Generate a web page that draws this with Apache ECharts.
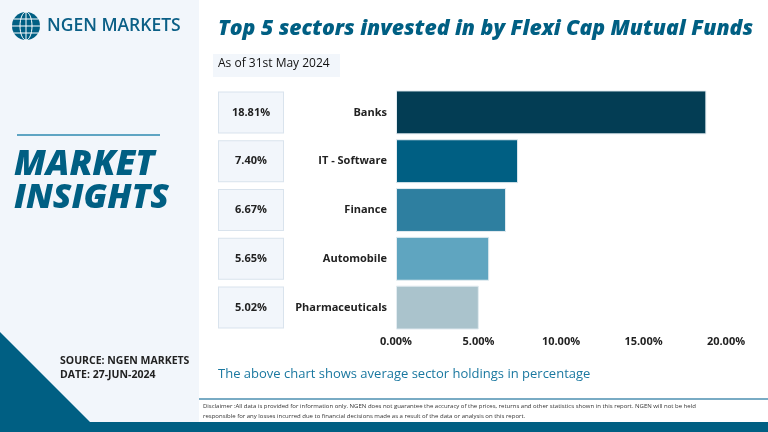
<!DOCTYPE html>
<html><head><meta charset="utf-8">
<script src="https://cdn.jsdelivr.net/npm/echarts@6/dist/echarts.min.js"></script>
<style>html,body{margin:0;padding:0;background:#fff}#c{width:768px;height:432px}</style>
</head><body><div id="c"></div>
<script>
const categories = ['Banks', 'IT - Software', 'Finance', 'Automobile', 'Pharmaceuticals'];
const values = [18.81, 7.40, 6.67, 5.65, 5.02];
const xTicks = [0, 5, 10, 15, 20];
const barColors = ['#033d54', '#005f83', '#2e7fa0', '#5fa5c0', '#aac3cc'];

const chart = echarts.init(document.getElementById('c'), null, {renderer: 'canvas'});
const F = '"Open Sans", "DejaVu Sans", sans-serif';
const dark = '#005f83';

const globe = [
  {type: 'circle', shape: {cx: 26, cy: 26, r: 14}, style: {fill: dark}},
  {type: 'ellipse', shape: {cx: 26, cy: 26, rx: 6, ry: 14}, style: {fill: 'none', stroke: '#fff', lineWidth: 1}},
  {type: 'line', shape: {x1: 26, y1: 12, x2: 26, y2: 40}, style: {stroke: '#fff', lineWidth: 1}},
  {type: 'line', shape: {x1: 12, y1: 26, x2: 40, y2: 26}, style: {stroke: '#fff', lineWidth: 1}},
  {type: 'line', shape: {x1: 14, y1: 19, x2: 38, y2: 19}, style: {stroke: '#fff', lineWidth: 1}},
  {type: 'line', shape: {x1: 14, y1: 33, x2: 38, y2: 33}, style: {stroke: '#fff', lineWidth: 1}}
];

chart.setOption({
  animation: false,
  backgroundColor: '#ffffff',
  graphic: [
    {type: 'rect', z: -10, shape: {x: 0, y: 0, width: 199, height: 432}, style: {fill: '#f2f6fb'}},
    {type: 'polygon', z: -5, shape: {points: [[0, 332], [91, 423], [0, 423]]}, style: {fill: dark}},
    {type: 'rect', z: -5, shape: {x: 0, y: 422, width: 768, height: 10}, style: {fill: dark}},
    ...globe,
    {type: 'text', left: 47, top: 17, style: {text: 'NGEN MARKETS', font: '600 17.5px ' + F, fill: '#0b5f86'}},
    {type: 'line', shape: {x1: 17, y1: 135, x2: 160, y2: 135}, style: {stroke: '#2e8ab0', lineWidth: 1.5}},
    {type: 'text', left: 14, top: 148, style: {text: 'MARKET', font: 'italic 900 35px ' + F, fill: dark}},
    {type: 'text', left: 14, top: 181, style: {text: 'INSIGHTS', font: 'italic 900 34px ' + F, fill: dark}},
    {type: 'text', left: 60, top: 356, style: {text: 'SOURCE: NGEN MARKETS', font: 'bold 10.5px ' + F, fill: '#222'}},
    {type: 'text', left: 60, top: 370, style: {text: 'DATE: 27-JUN-2024', font: 'bold 10.5px ' + F, fill: '#222'}},
    {type: 'text', left: 218, top: 18, style: {text: 'Top 5 sectors invested in by Flexi Cap Mutual Funds', font: 'italic 800 21.2px ' + F, fill: dark}},
    {type: 'rect', shape: {x: 213, y: 54, width: 127, height: 23}, style: {fill: '#f2f6fb'}},
    {type: 'text', left: 218, top: 58, style: {text: 'As of 31st May 2024', font: '12px ' + F, fill: '#111'}},
    {type: 'text', left: 218, top: 368, style: {text: 'The above chart shows average sector holdings in percentage', font: '13px ' + F, fill: '#1a78a0'}},
    {type: 'line', shape: {x1: 199, y1: 399, x2: 768, y2: 399}, style: {stroke: '#4d8fb0', lineWidth: 1.5}},
    {type: 'text', left: 203, top: 403, style: {text: 'Disclaimer :All data is provided for information only. NGEN does not guarantee the accuracy of the prices, returns and other statistics shown in this report. NGEN will not be held', font: '6px ' + F, fill: '#333'}},
    {type: 'text', left: 203, top: 413, style: {text: 'responsible for any losses incurred due to financial decisions made as a result of the data or analysis on this report.', font: '6px ' + F, fill: '#333'}}
  ],
  grid: {left: 396, right: 42, top: 88, bottom: 100},
  xAxis: {
    type: 'value', min: xTicks[0], max: xTicks[xTicks.length - 1], interval: 5,
    axisLine: {show: false}, axisTick: {show: false}, splitLine: {show: false},
    axisLabel: {formatter: v => v.toFixed(2) + '%', fontFamily: F, fontWeight: 'bold', fontSize: 11, color: '#222', margin: 4}
  },
  yAxis: [
    {
      type: 'category', data: categories, inverse: true,
      axisLine: {show: false}, axisTick: {show: false},
      axisLabel: {fontFamily: F, fontWeight: 'bold', fontSize: 11, color: '#222', margin: 9}
    },
    {
      type: 'category', data: values.map(v => v.toFixed(2) + '%'), inverse: true, position: 'left', offset: 105,
      axisLine: {show: false}, axisTick: {show: false},
      axisLabel: {
        margin: 8,
        formatter: '{b|{value}}',
        rich: {b: {width: 64, height: 40, align: 'center', backgroundColor: '#f2f6fb', borderColor: '#d9e3ed', borderWidth: 1,
          fontFamily: F, fontWeight: 'bold', fontSize: 11, color: '#222'}}
      }
    }
  ],
  series: [{
    type: 'bar', barCategoryGap: '10%',
    data: values.map((v, i) => ({value: v, itemStyle: {color: barColors[i], borderColor: '#e3ecf1', borderWidth: 1}}))
  }]
});
</script></body></html>
